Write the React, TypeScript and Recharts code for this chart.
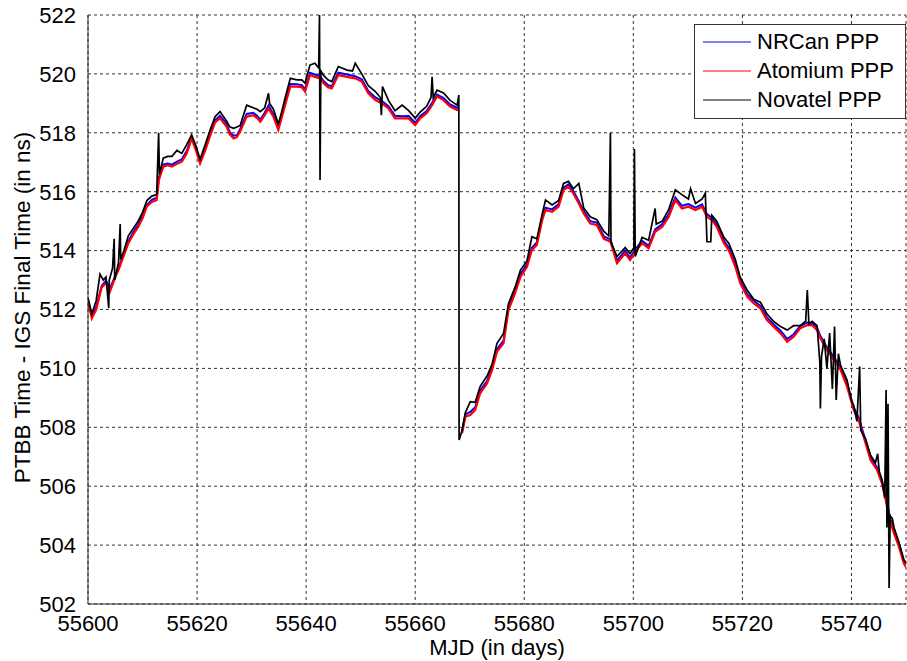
import React from 'react';
import {
  LineChart,
  Line,
  XAxis,
  YAxis,
  CartesianGrid,
  Legend,
} from 'recharts';

// PTBB clock offset against IGS final time, three PPP solutions (ns vs MJD)

const days = [
  55600.0, 55600.7, 55601.5, 55602.5, 55603.3, 55604.0, 55605.0, 55605.6, 55606.5, 55607.4,
  55608.3, 55609.2, 55610.0, 55610.8, 55611.7, 55612.6, 55613.0, 55613.8, 55614.6, 55615.4,
  55616.3, 55617.2, 55618.1, 55619.0, 55619.8, 55620.55, 55621.5, 55622.4, 55623.3, 55624.2,
  55625.4, 55626.0, 55626.7, 55627.3, 55627.9, 55629.1, 55630.3, 55631.0, 55631.6, 55632.4,
  55633.1, 55634.0, 55634.9, 55635.5, 55636.1, 55637.1, 55638.3, 55639.2, 55639.8, 55640.7,
  55641.6, 55642.6, 55643.2, 55644.0, 55644.7, 55645.9, 55647.5, 55649.0, 55650.2, 55651.4,
  55652.7, 55653.9, 55655.1, 55656.3, 55657.6, 55658.8, 55660.0, 55660.9, 55662.1, 55663.1,
  55664.0, 55665.2, 55666.4, 55667.7, 55668.0, 55668.3, 55668.6, 55669.2, 55670.1, 55671.0,
  55671.9, 55673.2, 55674.1, 55675.0, 55676.2, 55677.1, 55678.3, 55679.3, 55680.5, 55681.4,
  55682.3, 55683.3, 55683.9, 55685.1, 55686.3, 55687.2, 55688.1, 55689.0, 55690.0, 55690.9,
  55692.1, 55693.3, 55694.6, 55695.8, 55697.0, 55698.5, 55699.4, 55700.5, 55701.6, 55702.8,
  55704.0, 55705.3, 55706.5, 55707.7, 55708.9, 55710.1, 55711.4, 55712.6, 55713.5, 55714.4,
  55715.3, 55716.6, 55717.5, 55718.7, 55719.6, 55720.9, 55722.1, 55723.3, 55724.5, 55725.7,
  55727.0, 55728.2, 55729.4, 55730.6, 55731.9, 55732.8, 55733.7, 55734.3, 55735.5, 55736.8,
  55738.0, 55739.2, 55740.4, 55741.3, 55742.6, 55743.5, 55744.7, 55745.6, 55746.4, 55747.2,
  55747.8, 55748.7, 55749.6, 55750.0,
];

const nrcan = [
  512.30, 511.78, 512.08, 512.80, 512.98, 512.70, 513.15, 513.42, 513.85, 514.32,
  514.62, 514.88, 515.18, 515.55, 515.72, 515.80, 516.50, 516.92, 516.96, 516.92,
  517.02, 517.10, 517.38, 517.86, 517.45, 517.02, 517.48, 517.98, 518.42, 518.58,
  518.30, 518.02, 517.90, 517.92, 518.12, 518.64, 518.68, 518.58, 518.45, 518.68,
  518.92, 518.62, 518.18, 518.58, 518.98, 519.66, 519.65, 519.62, 519.48, 520.04,
  519.98, 519.92, 519.76, 519.62, 519.58, 520.04, 519.98, 519.92, 519.82, 519.42,
  519.20, 519.08, 518.90, 518.58, 518.56, 518.57, 518.34, 518.56, 518.74, 519.02,
  519.30, 519.18, 518.96, 518.85, 518.88, null, 507.88, 508.44, 508.52, 508.68,
  509.24, 509.58, 510.04, 510.65, 510.94, 512.06, 512.64, 513.20, 513.54, 514.10,
  514.28, 515.12, 515.46, 515.40, 515.58, 516.14, 516.25, 516.02, 515.68, 515.34,
  515.00, 514.95, 514.48, 514.38, 513.66, 514.00, 513.76, 514.08, 514.33, 514.16,
  514.72, 514.90, 515.24, 515.80, 515.52, 515.58, 515.46, 515.57, 515.24, 515.12,
  514.90, 514.34, 514.10, 513.54, 512.98, 512.52, 512.30, 512.12, 511.72, 511.50,
  511.28, 511.00, 511.16, 511.44, 511.56, 511.55, 511.38, 511.10, 510.72, 510.38,
  510.04, 509.48, 508.68, 508.34, 507.55, 506.98, 506.64, 506.20, 505.52, 504.84,
  504.50, 504.05, 503.48, 503.35,
];

const atomium = [
  512.25, 511.70, 512.00, 512.75, 512.90, 512.60, 513.10, 513.35, 513.80, 514.25,
  514.55, 514.80, 515.10, 515.50, 515.65, 515.72, 516.40, 516.85, 516.90, 516.85,
  516.95, 517.02, 517.30, 517.80, 517.40, 516.96, 517.40, 517.90, 518.35, 518.50,
  518.21, 517.95, 517.81, 517.85, 518.04, 518.55, 518.60, 518.50, 518.38, 518.60,
  518.83, 518.55, 518.10, 518.50, 518.90, 519.57, 519.57, 519.55, 519.40, 519.96,
  519.90, 519.85, 519.68, 519.55, 519.51, 519.96, 519.90, 519.85, 519.74, 519.34,
  519.11, 519.00, 518.83, 518.49, 518.49, 518.49, 518.26, 518.49, 518.66, 518.94,
  519.23, 519.11, 518.89, 518.77, 518.80, null, 507.80, 508.36, 508.42, 508.59,
  509.15, 509.50, 509.95, 510.57, 510.85, 511.98, 512.55, 513.11, 513.45, 514.02,
  514.19, 515.04, 515.38, 515.32, 515.49, 516.06, 516.17, 515.94, 515.60, 515.26,
  514.92, 514.87, 514.40, 514.30, 513.57, 513.91, 513.68, 514.00, 514.25, 514.08,
  514.64, 514.81, 515.15, 515.72, 515.43, 515.49, 515.38, 515.49, 515.15, 515.04,
  514.81, 514.25, 514.02, 513.45, 512.90, 512.43, 512.21, 512.04, 511.64, 511.42,
  511.19, 510.91, 511.08, 511.36, 511.47, 511.47, 511.30, 511.02, 510.63, 510.29,
  509.95, 509.38, 508.59, 508.25, 507.45, 506.89, 506.55, 506.10, 505.42, 504.74,
  504.40, 503.95, 503.38, 503.25,
];

// Novatel has its own sampling: it carries the outliers the other two don't
const novDays = [
  55600.0, 55600.7, 55601.5, 55602.2, 55602.8, 55603.3, 55603.8, 55603.9, 55604.5, 55604.8,
  55604.9, 55605.6, 55605.9, 55606.0, 55606.6, 55607.4, 55608.3, 55609.2, 55610.0, 55610.8,
  55611.7, 55612.6, 55612.95, 55613.1, 55613.8, 55614.6, 55615.4, 55616.3, 55617.2, 55618.1,
  55619.0, 55619.8, 55620.55, 55621.5, 55622.4, 55623.3, 55624.2, 55625.4, 55626.0, 55626.7,
  55627.3, 55627.9, 55629.1, 55630.3, 55631.0, 55631.6, 55632.4, 55633.1, 55633.3, 55634.0,
  55634.9, 55635.5, 55636.1, 55637.1, 55638.3, 55639.2, 55639.8, 55640.7, 55641.6, 55642.3,
  55642.45, 55642.55, 55642.7, 55643.2, 55644.0, 55644.7, 55645.9, 55647.5, 55648.5, 55649.0,
  55650.2, 55651.4, 55652.7, 55653.6, 55653.8, 55654.0, 55655.1, 55656.3, 55657.6, 55658.8,
  55660.0, 55660.9, 55662.1, 55662.9, 55663.1, 55663.3, 55664.0, 55665.2, 55666.4, 55667.7,
  55668.0, 55668.05, 55668.6, 55669.2, 55670.1, 55671.0, 55671.9, 55673.2, 55674.1, 55675.0,
  55676.2, 55677.1, 55678.3, 55679.3, 55680.5, 55681.4, 55682.3, 55683.3, 55683.9, 55685.1,
  55686.3, 55687.2, 55688.1, 55689.0, 55690.0, 55690.9, 55692.1, 55693.3, 55694.6, 55695.5,
  55695.8, 55695.9, 55697.0, 55698.5, 55699.4, 55700.1, 55700.2, 55700.35, 55701.6, 55702.8,
  55704.0, 55704.2, 55705.3, 55706.5, 55707.7, 55708.9, 55710.1, 55710.5, 55711.4, 55712.6,
  55713.2, 55713.5, 55714.2, 55714.4, 55715.3, 55716.6, 55717.5, 55718.7, 55719.6, 55720.9,
  55722.1, 55723.3, 55724.5, 55725.7, 55727.0, 55728.2, 55729.4, 55730.6, 55731.6, 55731.9,
  55732.2, 55732.8, 55733.7, 55734.2, 55734.3, 55734.5, 55735.0, 55735.5, 55736.0, 55736.5,
  55736.9, 55737.2, 55737.6, 55738.0, 55739.2, 55740.0, 55740.4, 55741.0, 55741.5, 55741.7,
  55742.6, 55743.5, 55744.4, 55744.8, 55745.1, 55745.6, 55746.1, 55746.35, 55746.5, 55746.7,
  55746.9, 55747.1, 55747.5, 55747.8, 55748.7, 55749.6, 55750.0,
];

const novatel = [
  512.40, 511.85, 512.30, 513.20, 513.00, 513.10, 512.05, 513.00, 513.40, 514.40,
  513.00, 513.60, 514.90, 513.70, 514.00, 514.50, 514.75, 515.00, 515.30, 515.70,
  515.85, 515.90, 518.00, 516.60, 517.14, 517.20, 517.20, 517.40, 517.30, 517.60,
  517.93, 517.55, 517.10, 517.60, 518.10, 518.55, 518.72, 518.40, 518.20, 518.15,
  518.20, 518.25, 518.94, 518.85, 518.80, 518.72, 518.85, 519.34, 519.00, 518.80,
  518.30, 518.70, 519.15, 519.85, 519.80, 519.80, 519.69, 520.30, 520.36, 520.20,
  522.00, 516.40, 520.10, 519.95, 519.80, 519.74, 520.25, 520.13, 520.10, 520.36,
  520.00, 519.60, 519.40, 519.20, 518.60, 519.57, 519.10, 518.75, 518.94, 518.75,
  518.50, 518.70, 518.90, 519.20, 519.90, 519.20, 519.45, 519.35, 519.10, 518.94,
  519.28, 507.57, 507.90, 508.50, 508.87, 508.85, 509.38, 509.75, 510.15, 510.85,
  511.19, 512.20, 512.75, 513.34, 513.65, 514.47, 514.40, 515.25, 515.72, 515.55,
  515.70, 516.28, 516.35, 516.10, 516.28, 515.45, 515.15, 515.05, 514.65, 514.50,
  518.00, 514.30, 513.80, 514.10, 513.90, 514.10, 517.45, 513.80, 514.45, 514.35,
  515.43, 514.90, 515.00, 515.40, 516.06, 515.90, 515.75, 516.10, 515.60, 515.75,
  515.95, 514.30, 514.30, 515.20, 515.00, 514.45, 514.25, 513.70, 513.10, 512.65,
  512.35, 512.25, 511.85, 511.60, 511.42, 511.30, 511.45, 511.45, 511.60, 512.66,
  511.50, 511.60, 511.45, 510.20, 508.64, 510.40, 511.00, 510.00, 511.20, 509.30,
  511.42, 508.93, 510.50, 510.10, 509.60, 508.90, 508.75, 508.20, 510.06, 507.90,
  507.60, 507.05, 506.80, 507.10, 506.50, 506.20, 505.60, 509.27, 504.60, 508.80,
  502.54, 505.00, 504.90, 504.60, 504.10, 503.50, 503.40,
];

const xTicks = [55600, 55620, 55640, 55660, 55680, 55700, 55720, 55740];
const yTicks = [502, 504, 506, 508, 510, 512, 514, 516, 518, 520, 522];

const series = [
  { name: 'NRCan PPP', color: '#0000ff' },
  { name: 'Atomium PPP', color: '#ff0000' },
  { name: 'Novatel PPP', color: '#000000' },
];

const ppp = days.map((mjd, i) => ({ mjd, nrcan: nrcan[i], atomium: atomium[i] }));
const nov = novDays.map((mjd, i) => ({ mjd, novatel: novatel[i] }));

const FONT = '"Liberation Sans", Arial, Helvetica, sans-serif';
const AXIS = '#262626';
const tickStyle = { fontFamily: FONT, fontSize: 22, fill: '#000' };

const YLabel = ({ viewBox }: any) => {
  const x = viewBox.x + 30;
  const y = viewBox.y + viewBox.height / 2 - 2;
  return (
    <text
      x={x}
      y={y}
      transform={`rotate(-90 ${x} ${y})`}
      textAnchor="middle"
      style={{ fontFamily: FONT, fontSize: 22.5, fill: '#000' }}
    >
      PTBB Time - IGS Final Time (in ns)
    </text>
  );
};

const XLabel = ({ viewBox }: any) => (
  <text
    x={viewBox.x + viewBox.width / 2}
    y={655}
    textAnchor="middle"
    style={{ fontFamily: FONT, fontSize: 22, fill: '#000' }}
  >
    MJD (in days)
  </text>
);

const LegendBox = () => (
  <div
    style={{
      width: 210,
      height: 91,
      border: '1px solid #333',
      background: '#fff',
      fontFamily: FONT,
      fontSize: 22,
      paddingTop: 2,
      boxSizing: 'content-box',
    }}
  >
    {series.map((s) => (
      <div key={s.name} style={{ display: 'flex', alignItems: 'center', height: 29 }}>
        <svg width={62} height={10} style={{ flex: 'none' }}>
          <line x1={8} x2={56} y1={5} y2={5} stroke={s.color} strokeWidth={1.2} />
        </svg>
        <span>{s.name}</span>
      </div>
    ))}
  </div>
);

export default function App() {
  return (
    <div style={{ position: 'absolute', left: 0, top: 0, background: '#fff' }}>
      <LineChart width={907} height={661} margin={{ top: 15, right: 1, bottom: 0, left: 0 }}>
        <CartesianGrid stroke="#333" strokeDasharray="3 3" />
        <XAxis
          dataKey="mjd"
          type="number"
          domain={[55600, 55750]}
          ticks={xTicks}
          allowDataOverflow
          height={57}
          tickLine={false}
          tickMargin={5}
          stroke={AXIS}
          tick={tickStyle}
          label={<XLabel />}
        />
        <XAxis
          xAxisId="top"
          orientation="top"
          type="number"
          domain={[55600, 55750]}
          height={0}
          tick={false}
          tickLine={false}
          stroke={AXIS}
        />
        <YAxis
          type="number"
          domain={[502, 522]}
          ticks={yTicks}
          allowDataOverflow
          width={88}
          tickLine={false}
          tickMargin={6}
          stroke={AXIS}
          tick={tickStyle}
          label={<YLabel />}
        />
        <YAxis
          yAxisId="right"
          orientation="right"
          type="number"
          domain={[502, 522]}
          width={0}
          tick={false}
          tickLine={false}
          stroke={AXIS}
        />
        <Line
          data={ppp}
          dataKey="nrcan"
          name="NRCan PPP"
          stroke="#0000ff"
          strokeWidth={2}
          dot={false}
          isAnimationActive={false}
        />
        <Line
          data={ppp}
          dataKey="atomium"
          name="Atomium PPP"
          stroke="#ff0000"
          strokeWidth={2.2}
          dot={false}
          isAnimationActive={false}
        />
        <Line
          data={nov}
          dataKey="novatel"
          name="Novatel PPP"
          stroke="#000000"
          strokeWidth={1.7}
          dot={false}
          isAnimationActive={false}
        />
        <Legend
          layout="horizontal"
          verticalAlign="middle"
          align="center"
          content={<LegendBox />}
          wrapperStyle={{ top: 24, left: 694, width: 212, height: 93 }}
        />
      </LineChart>
    </div>
  );
}
